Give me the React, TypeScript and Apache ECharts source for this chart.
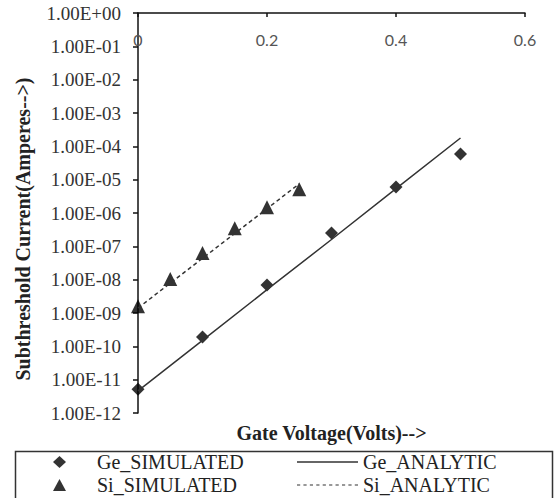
import React, { useEffect, useRef } from 'react';
import * as echarts from 'echarts';

// ---- Data ----
const geVoltage = [0, 0.1, 0.2, 0.3, 0.4, 0.5];
const geSimulated = [5.2e-12, 1.9e-10, 6.9e-9, 2.5e-7, 6.0e-6, 5.9e-5];
const geAnalytic = [4.6e-12, 1.5e-10, 5.0e-9, 1.6e-7, 5.4e-6, 1.78e-4];

const siVoltage = [0, 0.05, 0.1, 0.15, 0.2, 0.25];
const siSimulated = [1.6e-9, 1.05e-8, 6.3e-8, 3.5e-7, 1.5e-6, 5.2e-6];
const siAnalytic = [1.41e-9, 7.85e-9, 4.37e-8, 2.43e-7, 1.35e-6, 7.5e-6];

const xTickLabels = ['0', '0.2', '0.4', '0.6'];
const yTickLabels = [
  '1.00E+00', '1.00E-01', '1.00E-02', '1.00E-03', '1.00E-04', '1.00E-05', '1.00E-06',
  '1.00E-07', '1.00E-08', '1.00E-09', '1.00E-10', '1.00E-11', '1.00E-12',
];

const seriesNames = ['Ge_SIMULATED', 'Si_SIMULATED', 'Ge_ANALYTIC', 'Si_ANALYTIC'];

const SERIF = '"Liberation Serif", "Times New Roman", serif';

const DASH_ICON =
  'path://M0 0h3v1H0z M6 0h3v1H6z M12 0h3v1H12z M18 0h3v1H18z M24 0h3v1H24z ' +
  'M30 0h3v1H30z M36 0h3v1H36z M42 0h3v1H42z M48 0h3v1H48z M54 0h3v1H54z';

const pairs = (xs: number[], ys: number[]) => xs.map((x, i) => [x, ys[i]]);

const legendText = { fontFamily: SERIF, fontSize: 20, color: '#222' };

export default function App() {
  const ref = useRef<HTMLDivElement>(null);

  useEffect(() => {
    if (!ref.current) return;
    const chart = echarts.init(ref.current, null, { renderer: 'svg' });
    const option: any = {
      animation: false,
      backgroundColor: '#fff',
      grid: { left: 138, right: 30, top: 13, bottom: 85, containLabel: false },
      xAxis: [
        {
          type: 'value',
          position: 'top',
          min: 0,
          max: 0.6,
          interval: 0.2,
          axisLine: { show: true, lineStyle: { color: '#111', width: 1.5 } },
          axisTick: { show: true, inside: true, length: 4, lineStyle: { color: '#111', width: 1.5 } },
          axisLabel: {
            inside: true,
            margin: 18,
            fontFamily: 'Lato, "Open Sans", sans-serif',
            fontSize: 16,
            color: '#555',
            formatter: (v: number) => xTickLabels[Math.round(v / 0.2)],
          },
          splitLine: { show: false },
        },
        {
          type: 'value',
          position: 'bottom',
          min: 0,
          max: 0.6,
          axisLine: { show: false },
          axisTick: { show: false },
          axisLabel: { show: false },
          splitLine: { show: false },
          name: 'Gate Voltage(Volts)-->',
          nameLocation: 'middle',
          nameGap: 10,
          nameTextStyle: { fontFamily: SERIF, fontWeight: 'bold', fontSize: 20, color: '#222' },
        },
      ],
      yAxis: {
        type: 'log',
        logBase: 10,
        min: 1e-12,
        max: 1,
        interval: 1,
        axisLine: { show: true, lineStyle: { color: '#111', width: 1.5 } },
        axisTick: { show: true, inside: false, length: 5, lineStyle: { color: '#111', width: 1.5 } },
        axisLabel: {
          margin: 17,
          fontFamily: SERIF,
          fontSize: 19,
          color: '#333',
          formatter: (v: number) => yTickLabels[-Math.round(Math.log10(v))],
        },
        splitLine: { show: false },
        name: 'Subthreshold Current(Amperes-->)',
        nameLocation: 'middle',
        nameGap: 105,
        nameTextStyle: {
          fontFamily: SERIF,
          fontWeight: 'bold',
          fontSize: 20,
          color: '#222',
          padding: [0, 32, 0, 0],
        },
      },
      legend: [
        {
          data: [seriesNames[0]],
          left: 53,
          top: 452,
          padding: 0,
          itemWidth: 13,
          itemHeight: 12,
          selectedMode: false,
          textStyle: { ...legendText, padding: [0, 0, 0, 26] },
        },
        {
          data: [seriesNames[1]],
          left: 53,
          top: 475,
          padding: 0,
          itemWidth: 13,
          itemHeight: 12,
          selectedMode: false,
          textStyle: { ...legendText, padding: [0, 0, 0, 26] },
        },
        {
          data: [{ name: seriesNames[2], icon: 'rect' }],
          left: 297,
          top: 452,
          padding: 0,
          itemWidth: 61,
          itemHeight: 1.5,
          selectedMode: false,
          textStyle: legendText,
        },
        {
          data: [{ name: seriesNames[3], icon: DASH_ICON }],
          left: 297,
          top: 475,
          padding: 0,
          itemWidth: 61,
          itemHeight: 1.5,
          selectedMode: false,
          textStyle: legendText,
        },
      ],
      graphic: [
        {
          type: 'rect',
          left: 13,
          top: 449,
          shape: { width: 537, height: 60 },
          style: { fill: 'none', stroke: '#333', lineWidth: 1.5 },
          silent: true,
        },
      ],
      series: [
        {
          name: seriesNames[2],
          type: 'line',
          xAxisIndex: 0,
          data: pairs(geVoltage, geAnalytic),
          symbol: 'none',
          color: '#333',
          lineStyle: { color: '#333', width: 1.5, type: 'solid' },
        },
        {
          name: seriesNames[3],
          type: 'line',
          xAxisIndex: 0,
          data: pairs(siVoltage, siAnalytic),
          symbol: 'none',
          color: '#333',
          lineStyle: { color: '#333', width: 1.5, type: [4, 3] },
        },
        {
          name: seriesNames[0],
          type: 'scatter',
          xAxisIndex: 0,
          data: pairs(geVoltage, geSimulated),
          symbol: 'diamond',
          symbolSize: 13,
          itemStyle: { color: '#000' },
        },
        {
          name: seriesNames[1],
          type: 'scatter',
          xAxisIndex: 0,
          data: pairs(siVoltage, siSimulated),
          symbol: 'triangle',
          symbolSize: 14,
          itemStyle: { color: '#000' },
        },
      ],
    };
    chart.setOption(option);
    return () => chart.dispose();
  }, []);

  return (
    <div
      ref={ref}
      style={{ position: 'fixed', left: 0, top: 0, width: 555, height: 498 }}
    />
  );
}
